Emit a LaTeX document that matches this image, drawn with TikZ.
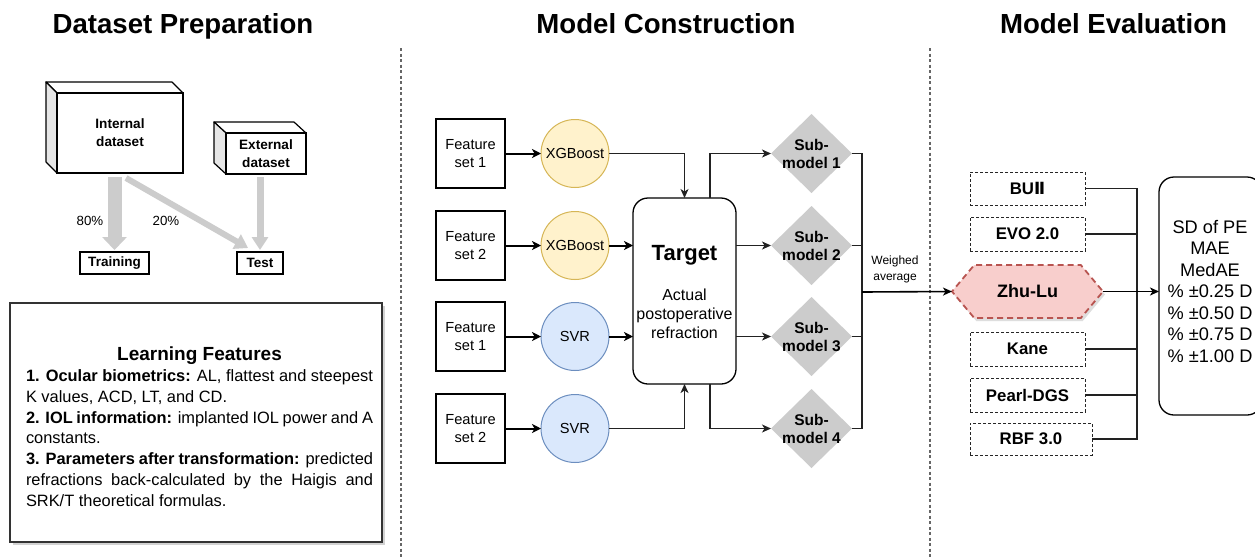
\documentclass[tikz,border=0pt]{standalone}
\usepackage{fontspec}
\setmainfont{Liberation Sans}
\newfontfamily\numeralfont{DejaVu Sans}
\usetikzlibrary{arrows.meta,shapes.geometric,shapes.symbols,shadows}

\definecolor{xgfill}{HTML}{FFF2CC}
\definecolor{xgline}{HTML}{D6B656}
\definecolor{svfill}{HTML}{DAE8FC}
\definecolor{svline}{HTML}{6C8EBF}
\definecolor{subgray}{HTML}{CCCCCC}
\definecolor{zlfill}{HTML}{F8CECC}
\definecolor{zlline}{HTML}{B85450}
\definecolor{sidegray}{HTML}{E6E6E6}
\definecolor{flowgray}{HTML}{CCCCCC}
\definecolor{wire}{HTML}{222222}
\definecolor{divgray}{HTML}{666666}

\begin{document}
\begin{tikzpicture}[x=1pt,y=-1pt,
  every node/.style={inner sep=0pt,outer sep=0pt},
  head/.style={anchor=base,font=\fontsize{27.6}{32}\selectfont\bfseries},
  divider/.style={draw=divgray,line width=1.2pt,dash pattern=on 3pt off 2.5pt},
  face/.style={draw=black,line width=1.2pt,line join=round},
  cubefront/.style={draw=black,line width=1.2pt,fill=white,align=center,
    font=\fontsize{13.6}{18}\selectfont\bfseries},
  splitbox/.style={draw=black,line width=1.5pt,fill=white,
    font=\fontsize{13.5}{16}\selectfont\bfseries},
  flow/.style={draw=flowgray},
  pct/.style={font=\fontsize{13.3}{16}\selectfont},
  fsbox/.style={draw=black,line width=2pt,fill=white,minimum width=69pt,minimum height=69pt,
    align=center,font=\fontsize{14.6}{18}\selectfont},
  xgb/.style={circle,draw=xgline,fill=xgfill,line width=1pt,minimum size=68pt,
    font=\fontsize{14.6}{18}\selectfont},
  svr/.style={circle,draw=svline,fill=svfill,line width=1pt,minimum size=68pt,
    font=\fontsize{14.6}{18}\selectfont},
  target/.style={draw=black,line width=1.3pt,rounded corners=15pt,fill=white,
    minimum width=103pt,minimum height=186pt},
  submodel/.style={diamond,fill=subgray,minimum width=81pt,minimum height=79pt},
  subtext/.style={align=center,font=\fontsize{15.5}{18}\selectfont\bfseries},
  thickarrow/.style={draw=black,line width=2pt,-{Stealth[length=9pt,width=9pt,inset=2.5pt]}},
  wireline/.style={draw=wire,line width=1.3pt},
  wirearrow/.style={draw=wire,line width=1.3pt,-{Stealth[length=9pt,width=8pt,inset=2.5pt]}},
  evalbox/.style={draw=black!85,line width=1pt,dash pattern=on 3pt off 2pt,fill=white,
    minimum width=115pt,minimum height=34pt,font=\fontsize{16.8}{20}\selectfont\bfseries},
  resultbox/.style={draw=black,line width=1.3pt,rounded corners=15pt,fill=white,
    minimum width=103pt,minimum height=238pt},
]

% canvas
\fill[white] (0,0) rectangle (1255,558);
\useasboundingbox (0,0) rectangle (1255,558);

% ---------------- section headings ----------------
\node[head] (hdata) at (183,33) {Dataset Preparation};
\node[head] (hmodel) at (666,33) {Model Construction};
\node[head] (heval) at (1113.5,33) {Model Evaluation};

% section dividers
\draw[divider] (401,48) -- (401,558);
\draw[divider] (930,48) -- (930,558);

% ---------------- dataset preparation ----------------
% internal dataset cube
\filldraw[face,fill=white] (46,82) -- (172,82) -- (183,93) -- (57,93) -- cycle;
\filldraw[face,fill=sidegray] (46,82) -- (57,93) -- (57,173) -- (46,162) -- cycle;
\node[cubefront,minimum width=126pt,minimum height=80pt] (internal) at (120,133) {Internal\\dataset};

% external dataset cube
\filldraw[face,fill=white] (214,122) -- (294,122) -- (306,133) -- (226,133) -- cycle;
\filldraw[face,fill=sidegray] (214,122) -- (226,133) -- (226,174) -- (214,163) -- cycle;
\node[cubefront,minimum width=80pt,minimum height=41pt] (external) at (266,153.5) {External\\dataset};

% split targets
\node[splitbox,minimum width=69pt,minimum height=22pt] (training) at (114.5,263) {Training};
\node[splitbox,minimum width=46pt,minimum height=22pt] (test) at (260,263) {Test};

% split arrows
\draw[flow,line width=14pt,-{Triangle[length=13pt,width=24pt]}]
  ([yshift=-4pt]internal.south -| training.north) -- ([yshift=2pt]training.north);
\draw[flow,line width=6pt,-{Triangle[length=13pt,width=16pt]}]
  ([shift={(6pt,-5pt)}]internal.south) -- ([shift={(-12pt,4pt)}]test.north);
\draw[flow,line width=7pt,-{Triangle[length=13pt,width=16pt]}]
  ([yshift=-3pt]external.south -| test.north) -- ([yshift=2pt]test.north);

\node[pct] (p80) at (90,221) {80\%};
\node[pct] (p20) at (166,221) {20\%};

% learning features
\node[draw=black!80,line width=1.3pt,fill=white,minimum width=372pt,minimum height=239pt,
  drop shadow={shadow xshift=3pt,shadow yshift=-3pt,fill=black!35}] (features) at (196,422.5) {};
\node[font=\fontsize{19}{22}\selectfont\bfseries] (ftitle) at (199.5,356) {Learning Features};
\node[anchor=north west,text width=347pt,align=justify,
  font=\fontsize{16.4}{20.7}\selectfont] (fbody) at (26,370)
  {\textbf{1. Ocular biometrics:} AL, flattest and steepest\linebreak
   K values, ACD, LT, and CD.\par
   \textbf{2. IOL information:} implanted IOL power and A\linebreak
   constants.\par
   \textbf{3. Parameters after transformation:} predicted\linebreak
   refractions back-calculated by the Haigis and\linebreak
   SRK/T theoretical formulas.};

% ---------------- model construction ----------------
\node[fsbox] (fs1) at (470.5,153.5) {Feature\\set 1};
\node[fsbox] (fs2) at (470.5,245.5) {Feature\\set 2};
\node[fsbox] (fs3) at (470.5,336.5) {Feature\\set 1};
\node[fsbox] (fs4) at (470.5,428.5) {Feature\\set 2};

\node[xgb] (xg1) at (575,153.5) {XGBoost};
\node[xgb] (xg2) at (575,245.5) {XGBoost};
\node[svr] (sv1) at (575,336.5) {SVR};
\node[svr] (sv2) at (575,428.5) {SVR};

\node[target] (tgt) at (684.5,291) {};
\node[font=\fontsize{22}{26}\selectfont\bfseries] (tgttitle) at (684.5,255) {Target};
\node[align=center,font=\fontsize{16}{19}\selectfont] (tgttext) at (684.5,314)
  {Actual\\postoperative\\refraction};

\draw[thickarrow] (fs1) -- (xg1);
\draw[thickarrow] (fs2) -- (xg2);
\draw[thickarrow] (fs3) -- (sv1);
\draw[thickarrow] (fs4) -- (sv2);

\draw[wirearrow] (xg1.east) -| (tgt.north);
\draw[thickarrow] (xg2.east) -- (tgt.west |- xg2.east);
\draw[thickarrow] (sv1.east) -- (tgt.west |- sv1.east);
\draw[wirearrow] (sv2.east) -| (tgt.south);

% sub-models
\node[submodel] (sm1) at (811.5,153.5) {};
\node[submodel] (sm2) at (811.5,245.5) {};
\node[submodel] (sm3) at (811.5,336.5) {};
\node[submodel] (sm4) at (811.5,428.5) {};
\node[subtext] at (sm1) {Sub-\\model 1};
\node[subtext] at (sm2) {Sub-\\model 2};
\node[subtext] at (sm3) {Sub-\\model 3};
\node[subtext] at (sm4) {Sub-\\model 4};

\draw[wirearrow] ([xshift=25.5pt]tgt.north) |- (sm1.west);
\draw[wirearrow] (tgt.east |- sm2.west) -- (sm2.west);
\draw[wirearrow] (tgt.east |- sm3.west) -- (sm3.west);
\draw[wirearrow] ([xshift=25.5pt]tgt.south) |- (sm4.west);

% weighted merge
\coordinate (merge) at (862,292);
\draw[wireline] (sm1.east) -| (merge) |- (sm4.east);
\draw[wireline] (sm2.east) -| (merge);
\draw[wireline] (sm3.east) -| (merge);
\node[align=center,font=\fontsize{12}{16}\selectfont] (wavg) at (895,269) {Weighed\\average};

% ---------------- model evaluation ----------------
\node[signal,signal to=west and east,signal pointer angle=100,
  minimum width=151pt,minimum height=53pt,fill=zlfill,draw=zlline,line width=1.8pt,
  dash pattern=on 6pt off 4pt,
  drop shadow={shadow xshift=2pt,shadow yshift=-3pt,fill=black!25},
  font=\fontsize{18}{22}\selectfont\bfseries] (zhulu) at (1027.5,291.5) {Zhu-Lu};

\draw[wirearrow,draw=black,line width=1.6pt] (merge) -- (zhulu.west);

\node[evalbox,minimum height=33pt] (bu) at (1027.5,188.5) {BU{\numeralfont Ⅱ}};
\node[evalbox] (evo) at (1027.5,234) {EVO 2.0};
\node[evalbox] (kane) at (1027.5,349) {Kane};
\node[evalbox] (pearl) at (1027.5,395) {Pearl-DGS};
\node[evalbox,minimum width=122pt,minimum height=32pt] (rbf) at (1031,439) {RBF 3.0};

\coordinate (evmerge) at (1137,291.5);
\draw[wireline] (bu.east) -| (evmerge) |- (rbf.east);
\draw[wireline] (evo.east) -| (evmerge);
\draw[wireline] (kane.east) -| (evmerge);
\draw[wireline] (pearl.east) -| (evmerge);

\node[resultbox] (res) at (1210.5,296) {};
\node[align=center,font=\fontsize{18.2}{21.5}\selectfont] (restext) at (1210,291)
  {SD of PE\\MAE\\MedAE\\\% ±0.25 D\\\% ±0.50 D\\\% ±0.75 D\\\% ±1.00 D};

\draw[wirearrow,draw=black,line width=1.6pt] (zhulu.east) -- (zhulu.east -| res.west);

\end{tikzpicture}
\end{document}
